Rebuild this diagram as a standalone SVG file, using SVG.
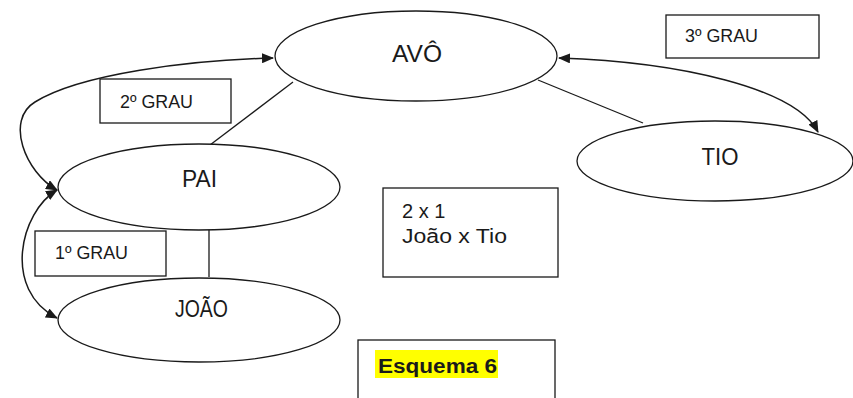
<svg xmlns="http://www.w3.org/2000/svg" width="853" height="398" viewBox="0 0 853 398">
  <style>
    .node { fill: #ffffff; stroke: #1a1a1a; stroke-width: 1.3; }
    .box { fill: #ffffff; stroke: #1a1a1a; stroke-width: 1.3; }
    .link { fill: none; stroke: #1a1a1a; stroke-width: 1.3; }
    .arc { fill: none; stroke: #1a1a1a; stroke-width: 1.5; marker-start: url(#head); marker-end: url(#head); }
    .big { font-family: "Liberation Sans", Arial, sans-serif; font-size: 24px; fill: #1a1a1a; text-anchor: middle; }
    .small { font-family: "Liberation Sans", Arial, sans-serif; font-size: 18px; fill: #1a1a1a; }
    .note { font-family: "Liberation Sans", Arial, sans-serif; font-size: 20px; fill: #1a1a1a; }
  </style>
  <defs>
    <marker id="head" viewBox="0 0 12 10" refX="11" refY="5" markerWidth="12" markerHeight="10" markerUnits="userSpaceOnUse" orient="auto-start-reverse">
      <path d="M0,0 L12,5 L0,10 Z" fill="#1a1a1a"/>
    </marker>
  </defs>

  <!-- kinship lines and degree arcs -->
  <g id="connectors">
    <line class="link" x1="293" y1="82" x2="210" y2="145"/>
    <line class="link" x1="538" y1="80" x2="643" y2="123"/>
    <line class="link" x1="209" y1="230" x2="209" y2="277"/>
    <path class="arc" d="M57 190 C25 172, 5 120, 35 102 C80 74, 190 60, 273 58"/>
    <path class="arc" d="M57 190 C20 212, 2 290, 57 318"/>
    <path class="arc" d="M559 58 C680 62, 795 88, 818 132"/>
  </g>

  <g id="avo">
    <ellipse class="node" cx="416" cy="56" rx="141" ry="45"/>
    <text class="big" x="417" y="62" textLength="50" lengthAdjust="spacingAndGlyphs">AVÔ</text>
  </g>
  <g id="pai">
    <ellipse class="node" cx="199" cy="187" rx="141" ry="43"/>
    <text class="big" x="199.5" y="187" textLength="35" lengthAdjust="spacingAndGlyphs">PAI</text>
  </g>
  <g id="joao">
    <ellipse class="node" cx="199" cy="320" rx="141" ry="42"/>
    <text class="big" x="201.5" y="317" textLength="53" lengthAdjust="spacingAndGlyphs">JOÃO</text>
  </g>
  <g id="tio">
    <ellipse class="node" cx="715" cy="161" rx="138" ry="40"/>
    <text class="big" x="720" y="165" textLength="37" lengthAdjust="spacingAndGlyphs">TIO</text>
  </g>

  <g id="grau2">
    <rect class="box" x="100" y="79" width="131" height="44"/>
    <text class="small" x="120" y="108" textLength="73" lengthAdjust="spacingAndGlyphs">2º GRAU</text>
  </g>
  <g id="grau3">
    <rect class="box" x="666" y="15" width="153" height="43"/>
    <text class="small" x="685" y="42" textLength="73" lengthAdjust="spacingAndGlyphs">3º GRAU</text>
  </g>
  <g id="grau1">
    <rect class="box" x="35" y="231" width="131" height="45"/>
    <text class="small" x="55" y="259" textLength="73" lengthAdjust="spacingAndGlyphs">1º GRAU</text>
  </g>
  <g id="comparacao">
    <rect class="box" x="383" y="188" width="175" height="89"/>
    <text class="note" x="402" y="218">2 x 1</text>
    <text class="note" x="402" y="243" textLength="105" lengthAdjust="spacingAndGlyphs">João x Tio</text>
  </g>
  <g id="esquema">
    <rect class="box" x="358" y="340" width="197" height="70"/>
    <rect x="375" y="350" width="123" height="28" fill="#ffff00"/>
    <text class="note" x="378" y="373" font-weight="bold" textLength="119" lengthAdjust="spacingAndGlyphs">Esquema 6</text>
  </g>
</svg>
